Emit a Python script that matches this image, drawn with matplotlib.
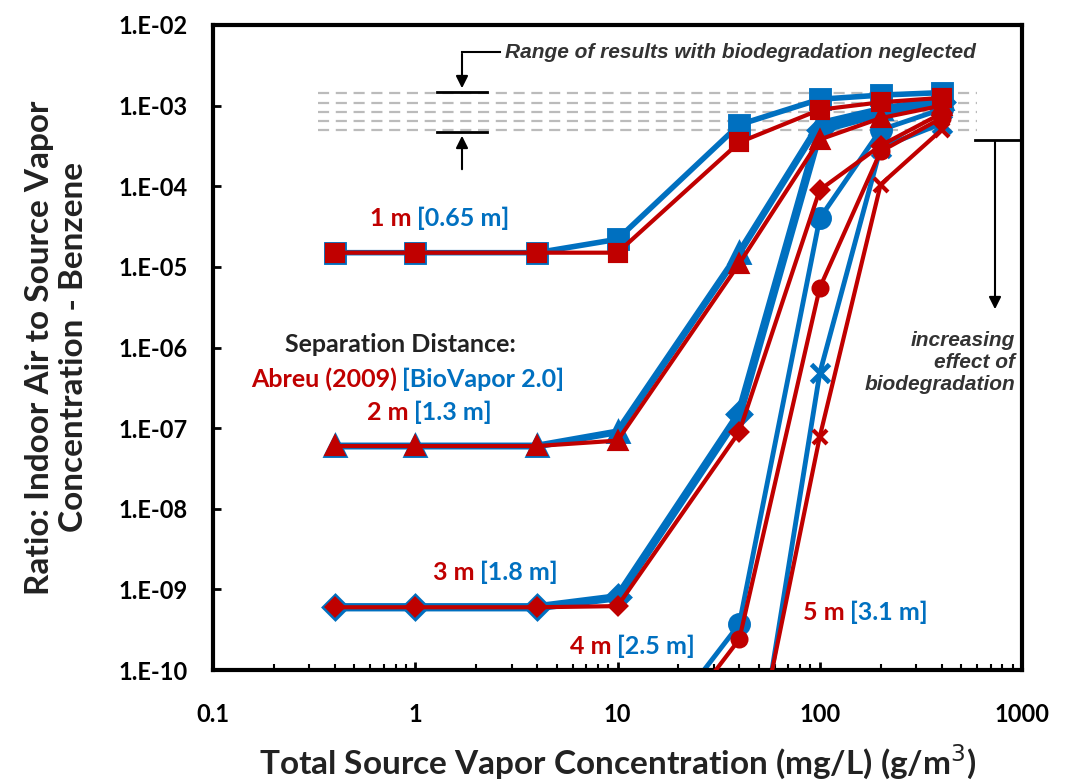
import numpy as np
import matplotlib.pyplot as plt

# Source vapor concentration (mg/L)
conc = [0.4, 1, 4, 10, 40, 100, 200, 400]

# Abreu (2009) results, red
abreu_1m = [1.5e-5, 1.5e-5, 1.5e-5, 1.5e-5, 3.5e-4, 8.9e-4, 1.1e-3, 1.25e-3]
abreu_2m = [6e-8, 6e-8, 6e-8, 7e-8, 1.1e-5, 3.8e-4, 7e-4, 1.0e-3]
abreu_3m = [6e-10, 6e-10, 6e-10, 6.2e-10, 9e-8, 9e-5, 3.2e-4, 8e-4]
abreu_4m = [2.5e-12, 2.5e-12, 2.5e-12, 2.5e-12, 2.4e-10, 5.5e-6, 2.7e-4, 7e-4]
abreu_5m = [1e-12, 1e-12, 1e-12, 1e-12, 1e-12, 7.8e-8, 1.05e-4, 5e-4]

# BioVapor 2.0 results, blue
bio_1m = [1.5e-5, 1.5e-5, 1.5e-5, 2.2e-5, 5.8e-4, 1.2e-3, 1.35e-3, 1.45e-3]
bio_2m = [6e-8, 6e-8, 6e-8, 9e-8, 1.5e-5, 6e-4, 9e-4, 1.2e-3]
bio_3m = [6e-10, 6e-10, 6e-10, 8e-10, 1.5e-7, 5e-4, 8e-4, 1.1e-3]
bio_4m = [4e-12, 4e-12, 4e-12, 4e-12, 3.7e-10, 4e-5, 5e-4, 9e-4]
bio_5m = [3e-13, 3e-13, 3e-13, 3e-13, 3e-13, 4.8e-7, 3e-4, 6e-4]

# range of results with biodegradation neglected
no_bio_levels = [1.45e-3, 1.08e-3, 8.3e-4, 6.4e-4, 5.0e-4]

RED = '#C00000'
BLUE = '#0070C0'

plt.rcParams['font.family'] = ['Lato', 'DejaVu Sans']

fig = plt.figure(figsize=(10.71, 7.81), dpi=100)
ax = fig.add_axes([213/1071, 1-670/781, (1022-213)/1071, (670-25)/781])

for lv in no_bio_levels:
    ax.plot([0.33, 600], [lv, lv], color='#BBBBBB', lw=1.6, ls=(0, (5, 3)), zorder=1)

blue_sets = [(bio_1m, 's', 13), (bio_2m, '^', 13), (bio_3m, 'D', 11),
             (bio_4m, 'o', 13), (bio_5m, 'x', 13)]
red_sets = [(abreu_1m, 's', 11), (abreu_2m, '^', 11), (abreu_3m, 'D', 8),
            (abreu_4m, 'o', 10), (abreu_5m, 'x', 10)]
blue_lw = [4, 5, 6, 3.5, 3.5]
for (vals, m, ms), lw in zip(blue_sets, blue_lw):
    ax.plot(conc, vals, color=BLUE, lw=lw, marker=m, ms=ms, mew=3.5, zorder=2)
for vals, m, ms in red_sets:
    ax.plot(conc, vals, color=RED, lw=3, marker=m, ms=ms, mew=3, zorder=3)

ax.set_xscale('log')
ax.set_yscale('log')
ax.set_xlim(0.1, 1000)
ax.set_ylim(1e-10, 1e-2)
ax.set_xticks([0.1, 1, 10, 100, 1000])
ax.set_xticklabels(['0.1', '1', '10', '100', '1000'])
yt = [10.0**k for k in range(-10, -1)]
ax.set_yticks(yt)
ax.set_yticklabels(['1.E-%02d' % -k for k in range(-10, -1)])
ax.yaxis.set_minor_locator(plt.NullLocator())
ax.tick_params(axis='both', which='major', direction='in', length=6, width=2,
               labelsize=17)
ax.tick_params(axis='x', which='major', pad=24)
ax.tick_params(axis='y', which='major', pad=18)
ax.tick_params(axis='x', which='minor', direction='in', length=4, width=1.5)
for lab in ax.get_xticklabels() + ax.get_yticklabels():
    lab.set_fontweight('bold')
for s in ax.spines.values():
    s.set_linewidth(3)

ax.set_xlabel('Total Source Vapor Concentration (mg/L) (g/m$^3$)',
              fontsize=24, fontweight='bold', color='#222222', labelpad=12)
ax.set_ylabel('Ratio: Indoor Air to Source Vapor\nConcentration - Benzene',
              fontsize=24, fontweight='bold', color='#222222', labelpad=22)

# series labels: red separation distance + blue bracket
def dist_label(x, y, red_txt, blue_txt):
    t = ax.annotate(red_txt, (x, y), xycoords='figure pixels', color=RED,
                    fontsize=18, fontweight='bold', ha='left', va='center')
    ax.annotate(blue_txt, xy=(1, 0), xycoords=t, xytext=(4, 0),
                textcoords='offset points', color=BLUE, fontsize=18,
                fontweight='bold', ha='left', va='bottom')

H = 781
dist_label(370, H - 218, '1 m', '[0.65 m]')
dist_label(367, H - 412, '2 m', '[1.3 m]')
dist_label(433, H - 572, '3 m', '[1.8 m]')
dist_label(570, H - 647, '4 m', '[2.5 m]')
dist_label(803, H - 612, '5 m', '[3.1 m]')

fig.text(400/1071, 1-345/H, 'Separation Distance:', ha='center', va='center',
         fontsize=18, fontweight='bold', color='#222222')
dist_label(251, H - 379, 'Abreu (2009)', '[BioVapor 2.0]')

# "range" annotation
ital = dict(family=['Liberation Sans', 'DejaVu Sans'], style='italic',
            fontweight='bold', color='#333333')
fig.text(505/1071, 1-52/H, 'Range of results with biodegradation neglected',
         ha='left', va='center', fontsize=15, **ital)
px = lambda x, y: (x/1071, 1-y/H)
fig.add_artist(plt.Line2D([462/1071, 500/1071], [1-52/H, 1-52/H], color='k', lw=1.5))
fig.add_artist(plt.Line2D([437/1071, 487/1071], [1-92/H, 1-92/H], color='k', lw=2))
fig.add_artist(plt.Line2D([437/1071, 487/1071], [1-132/H, 1-132/H], color='k', lw=2))
ax.annotate('', xy=px(462, 91), xytext=px(462, 51), xycoords='figure fraction',
            arrowprops=dict(arrowstyle='-|>', color='k', lw=1.5, mutation_scale=18))
ax.annotate('', xy=px(462, 133), xytext=px(462, 172), xycoords='figure fraction',
            arrowprops=dict(arrowstyle='-|>', color='k', lw=1.5, mutation_scale=18))

# biodegradation arrow
fig.add_artist(plt.Line2D([975/1071, 1022/1071], [1-140/H, 1-140/H], color='k', lw=2))
ax.annotate('', xy=px(995, 312), xytext=px(995, 139), xycoords='figure fraction',
            arrowprops=dict(arrowstyle='-|>', color='k', lw=1.5, mutation_scale=18))
fig.text(1015/1071, 1-362/H, 'increasing\neffect of\nbiodegradation', ha='right',
         va='center', fontsize=15, linespacing=1.2, **ital)

fig.savefig('out.png', dpi=100)
